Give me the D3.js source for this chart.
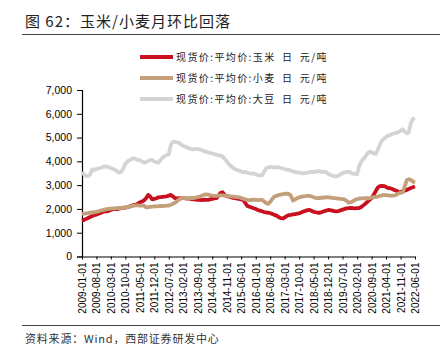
<!DOCTYPE html>
<html><head><meta charset="utf-8">
<script src="https://cdn.jsdelivr.net/npm/d3@7"></script>
<style>body{margin:0;background:#fff}svg{display:block}</style>
</head><body><svg id="c" width="448" height="354"></svg>
<script>
const startDate = "2009-01-01";
const tickLabels = ["2009-01-01","2009-08-01","2010-03-01","2010-10-01","2011-05-01","2011-12-01","2012-07-01","2013-02-01","2013-09-01","2014-04-01","2014-11-01","2015-06-01","2016-01-01","2016-08-01","2017-03-01","2017-10-01","2018-05-01","2018-12-01","2019-07-01","2020-02-01","2020-09-01","2021-04-01","2021-11-01","2022-06-01"];
const yTicks = [0,1000,2000,3000,4000,5000,6000,7000];
const seriesNames = ["现货价:平均价:玉米\u2002日\u2002元/吨","现货价:平均价:小麦\u2002日\u2002元/吨","现货价:平均价:大豆\u2002日\u2002元/吨"];
const corn = [1510,1540,1580,1620,1660,1700,1740,1760,1800,1830,1870,1910,1900,1920,1960,1990,2000,1990,2010,2030,2050,2050,2070,2100,2130,2170,2180,2220,2270,2310,2350,2450,2590,2520,2400,2420,2450,2490,2500,2510,2520,2530,2560,2590,2520,2450,2440,2450,2450,2460,2440,2430,2430,2410,2400,2390,2380,2380,2370,2390,2380,2380,2400,2420,2440,2450,2550,2680,2700,2580,2540,2520,2490,2460,2450,2430,2420,2400,2380,2250,2120,2090,2060,2030,2000,1955,1930,1900,1870,1850,1840,1820,1790,1750,1720,1660,1610,1600,1640,1700,1740,1750,1770,1780,1800,1815,1850,1890,1920,1950,1955,1920,1880,1860,1840,1840,1870,1900,1930,1955,1950,1930,1910,1900,1910,1940,1970,2000,2020,2030,2040,2030,2020,2030,2030,2080,2150,2220,2300,2380,2460,2590,2750,2900,2960,2970,2960,2920,2880,2870,2840,2800,2760,2720,2700,2740,2770,2800,2840,2880,2910,2940];
const wheat = [1790,1800,1810,1820,1840,1850,1860,1880,1900,1930,1950,1970,1990,2000,2010,2020,2020,2030,2040,2040,2050,2060,2080,2100,2120,2140,2150,2150,2140,2140,2140,2070,2080,2090,2100,2110,2110,2120,2130,2120,2130,2140,2140,2180,2220,2260,2330,2400,2450,2460,2450,2440,2450,2460,2450,2480,2500,2520,2560,2600,2610,2600,2580,2560,2550,2550,2560,2570,2570,2560,2550,2540,2530,2520,2510,2500,2490,2460,2430,2400,2380,2370,2380,2390,2380,2370,2380,2380,2320,2250,2210,2300,2420,2520,2550,2580,2600,2620,2630,2640,2630,2560,2350,2400,2450,2490,2510,2530,2540,2550,2550,2520,2490,2460,2450,2460,2470,2480,2490,2490,2480,2460,2450,2440,2430,2420,2410,2400,2330,2260,2280,2330,2380,2410,2430,2440,2440,2450,2450,2450,2480,2500,2510,2520,2550,2570,2590,2580,2570,2560,2560,2560,2600,2650,2680,2700,2950,3220,3250,3220,3150,3100];
const soybean = [3550,3450,3380,3390,3450,3670,3640,3680,3700,3720,3760,3790,3780,3750,3720,3680,3650,3580,3520,3560,3700,3900,3990,4050,4100,4130,4100,4060,4050,4000,3950,3970,4020,4060,4050,4000,3960,3950,4050,4150,4230,4270,4300,4700,4830,4820,4800,4780,4700,4640,4620,4580,4540,4510,4500,4520,4510,4500,4470,4430,4400,4380,4360,4330,4300,4280,4260,4240,4200,4100,4000,3880,3800,3730,3680,3640,3610,3580,3540,3560,3520,3500,3480,3490,3460,3420,3410,3400,3550,3700,3750,3770,3760,3740,3760,3750,3720,3700,3680,3650,3640,3610,3580,3560,3540,3530,3510,3500,3510,3530,3550,3560,3550,3570,3590,3580,3560,3570,3540,3480,3430,3400,3380,3360,3400,3450,3500,3540,3560,3570,3520,3480,3470,3460,3800,3990,4100,4200,4330,4410,4380,4330,4310,4500,4700,4880,4950,5020,5080,5110,5150,5180,5200,5230,5280,5350,5250,5180,5230,5600,5780,5810];
const colors = ["#C8101E","#C4A07A","#D4D4D4"];

const svg = d3.select("#c");
const parse = d3.utcParse("%Y-%m-%d");
const t0 = parse(startDate);
const dates = d3.range(corn.length).map(i => d3.utcMonth.offset(t0, i));
const x = d3.scaleUtc().domain([t0, parse(tickLabels[tickLabels.length-1])]).range([82, 415]);
const y = d3.scaleLinear().domain([0, 7000]).range([256.5, 90]);

// title
svg.append("text").attr("x",25).attr("y",27).attr("font-family","Noto Sans CJK SC").attr("font-size",15).attr("letter-spacing",1).attr("fill","#222").text("图 62：玉米/小麦月环比回落");
svg.append("line").attr("x1",22).attr("x2",440).attr("y1",34.5).attr("y2",34.5).attr("stroke","#444").attr("stroke-width",1);
svg.append("line").attr("x1",22).attr("x2",440).attr("y1",325.5).attr("y2",325.5).attr("stroke","#444").attr("stroke-width",1);
svg.append("text").attr("x",25).attr("y",342.5).attr("font-family","Noto Sans CJK SC").attr("font-size",11).attr("letter-spacing",0.8).attr("fill","#333").text("资料来源：Wind，西部证券研发中心");

// axes
const yAxis = d3.axisLeft(y).tickValues(yTicks).tickSize(5).tickFormat(d3.format(","));
const gy = svg.append("g").attr("transform","translate(82,0)").call(yAxis);
gy.select(".domain").attr("stroke","#000").attr("stroke-width",1.2);
gy.selectAll(".tick line").attr("stroke","#000");
gy.selectAll("text").attr("font-family","Liberation Sans, Arial").attr("font-size",10.5).attr("fill","#000").attr("x",-10);

const xAxis = d3.axisBottom(x).tickValues(tickLabels.map(parse)).tickSize(3).tickSizeOuter(0).tickFormat(d3.utcFormat("%Y-%m-%d"));
const gx = svg.append("g").attr("transform","translate(0,256.5)").call(xAxis);
gx.select(".domain").attr("stroke","#000").attr("stroke-width",1.2);
gx.selectAll(".tick line").attr("stroke","#000");
gx.selectAll("text").attr("font-family","Liberation Sans, Arial").attr("font-size",10).attr("fill","#000")
  .attr("transform","rotate(-90)").attr("text-anchor","end").attr("x",-6).attr("y",0).attr("dy","0.35em");

// lines
const series = [corn, wheat, soybean];
const line = d3.line().x((d,i)=>x(dates[i])).y(d=>y(d));
series.forEach((s,k)=>{
  svg.append("path").datum(s).attr("d",line).attr("fill","none").attr("stroke",colors[k]).attr("stroke-width",3.8).attr("stroke-linejoin","round");
});

// legend
seriesNames.forEach((n,k)=>{
  const ly = 57 + k*21;
  svg.append("line").attr("x1",140).attr("x2",173).attr("y1",ly).attr("y2",ly).attr("stroke",colors[k]).attr("stroke-width",3.8);
  svg.append("text").attr("x",176).attr("y",ly+3.5).attr("font-family","Noto Sans CJK SC").attr("font-size",10).attr("fill","#222").attr("letter-spacing",1.4).text(n);
});
</script></body></html>
